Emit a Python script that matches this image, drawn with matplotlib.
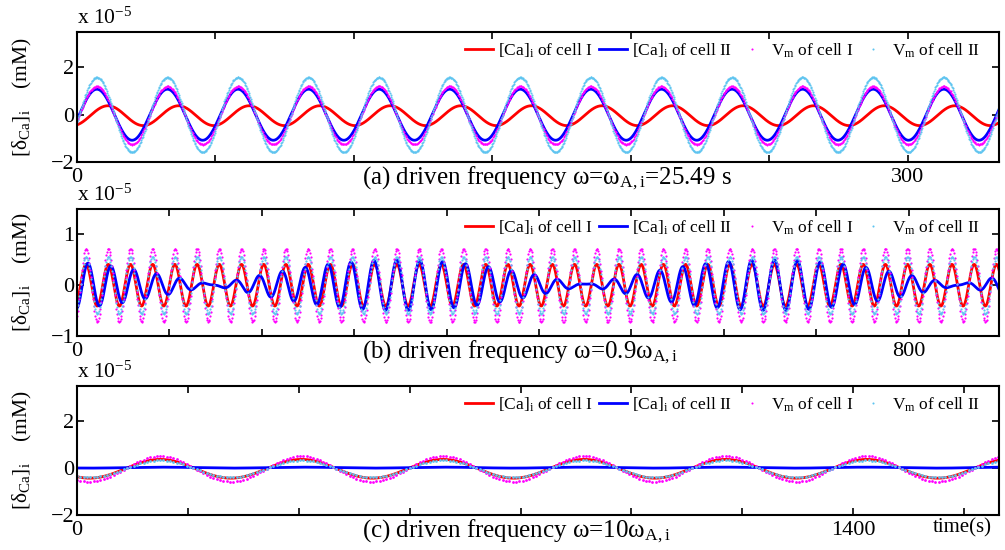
import numpy as np
import matplotlib
matplotlib.use("Agg")
import matplotlib.pyplot as plt
from matplotlib.lines import Line2D

plt.rcParams["font.family"] = ["Liberation Serif", "DejaVu Serif"]
plt.rcParams["mathtext.fontset"] = "custom"
plt.rcParams["mathtext.rm"] = "Liberation Serif"
plt.rcParams["mathtext.it"] = "Liberation Serif:italic"
plt.rcParams["mathtext.bf"] = "Liberation Serif:bold"

# series order: [Ca]i cell I, [Ca]i cell II, Vm cell I, Vm cell II
labels = [r"[Ca]$_\mathrm{i}$ of cell I", r"[Ca]$_\mathrm{i}$ of cell II",
          r"V$_\mathrm{m}$ of cell I", r"V$_\mathrm{m}$ of cell II"]
colors = ["#ff0000", "#0000ff", "#ff00ff", "#5ec4f0"]

# all amplitudes in units of 1e-5 mM, times in s
# (a) driven at omega_A,i
period_a = 25.49
tmax_a = 333
amp_a = [0.42, 1.08, 1.23, 1.58]
zero_a = [4.8, 0.8, 0.8, 0.8]        # first rising zero crossing
offset_a = [-0.04, 0.0, -0.03, 0.0]

# (b) driven at 0.9 omega_A,i ; cell II beats (second component)
period_b = 21.36
tmax_b = 887
amp_b = [0.41, 0.24, 0.72, 0.56]
zero_b = [3.4, 3.4, 3.4, 3.4]
offset_b = [0.0, 0.0, 0.0, 0.0]
beat_amp_b = 0.26
beat_period_b = 358.3
beat_phase_b = -0.85

# (c) driven at 10 omega_A,i
period_c = 254.9
tmax_c = 1663
amp_c = [0.40, 0.02, 0.545, 0.36]
zero_c = [86.5, 86.5, 86.5, 86.5]
offset_c = [-0.03, 0.02, -0.035, -0.03]

captions = [r"(a) driven frequency ω=ω$_\mathrm{A,i}$=25.49 s",
            r"(b) driven frequency ω=0.9ω$_\mathrm{A,i}$",
            r"(c) driven frequency ω=10ω$_\mathrm{A,i}$"]


def wave(t, amp, zero, off, period):
    return amp * np.sin(2 * np.pi * (t - zero) / period) + off


fig = plt.figure(figsize=(10.05, 5.5), dpi=100)
W, H = 1005, 550
boxes = [(32, 162), (209, 336), (386, 515)]
axes = [fig.add_axes([77 / W, 1 - b / H, 922 / W, (b - t) / H]) for t, b in boxes]

panels = [
    (period_a, tmax_a, amp_a, zero_a, offset_a, 0.05, 0.25, 3.0),
    (period_b, tmax_b, amp_b, zero_b, offset_b, 0.2, 0.7, 3.2),
    (period_c, tmax_c, amp_c, zero_c, offset_c, 1.0, 6.0, 4.0),
]

for i, (ax, p) in enumerate(zip(axes, panels)):
    period, tmax, amp, zero, off, dt_line, dt_dot, ms = p
    tl = np.arange(0, tmax + dt_line, dt_line)
    td = np.arange(0, tmax + dt_dot, dt_dot)
    ax.plot(tl, wave(tl, amp[0], zero[0], off[0], period), color=colors[0], lw=2)
    blue = wave(tl, amp[1], zero[1], off[1], period)
    if i == 1:
        phi = beat_phase_b - 2 * np.pi * tl / beat_period_b
        blue = blue + beat_amp_b * np.sin(2 * np.pi * (tl - zero[1]) / period + phi)
    ax.plot(tl, blue, color=colors[1], lw=2)
    for k in (2, 3):
        ax.plot(td, wave(td, amp[k], zero[k], off[k], period), ls="none",
                marker=".", ms=ms, mew=0, color=colors[k])
    ax.set_xlim(0, tmax)

axes[0].set_ylim(-2, 3.5)
axes[1].set_ylim(-1, 1.5)
axes[2].set_ylim(-2, 3.5)
axes[0].set_yticks([-2, 0, 2])
axes[1].set_yticks([-1, 0, 1])
axes[2].set_yticks([-2, 0, 2])

axes[0].set_xticks(np.arange(7) * 50)
axes[0].set_xticklabels(["0", "", "", "", "", "", "300"])
axes[1].set_xticks(np.arange(10) * 800 / 9)
axes[1].set_xticklabels(["0"] + [""] * 8 + ["800"])
axes[2].set_xticks(np.arange(9) * 200)
axes[2].set_xticklabels(["0"] + [""] * 6 + ["1400", ""])

handles = [Line2D([], [], color=colors[0], lw=2),
           Line2D([], [], color=colors[1], lw=2),
           Line2D([], [], color=colors[2], ls="none", marker=".", ms=3, mew=0),
           Line2D([], [], color=colors[3], ls="none", marker=".", ms=3, mew=0)]

baselines = [184, 358, 537]
for ax, cap, base in zip(axes, captions, baselines):
    for s in ax.spines.values():
        s.set_linewidth(1.5)
    ax.tick_params(direction="in", top=True, right=True, length=5, width=1.2,
                   labelsize=16, pad=3)
    ax.tick_params(axis="x", pad=4)
    ax.tick_params(axis="y", pad=2)
    ax.set_ylabel(r"[δ$_\mathrm{Ca}$]$_\mathrm{i}$    (mM)", fontsize=15.5)
    ax.yaxis.set_label_coords(-0.047, 0.5)
    ax.annotate(r"x 10$^{-5}$", xy=(0, 1), xycoords="axes fraction",
                xytext=(0, 2), textcoords="offset points", fontsize=15.5,
                ha="left", va="bottom")
    ax.legend(handles, labels, loc="upper right", ncol=4, frameon=False,
              fontsize=12.5, handlelength=1.6, handletextpad=0.3,
              columnspacing=0.35, borderaxespad=0.15, bbox_to_anchor=(0.99, 1.0))
    fig.text(362 / W, 1 - base / H, cap, fontsize=18, ha="left", va="baseline")

fig.text(992 / W, 1 - 532 / H, "time(s)", fontsize=15, ha="right", va="baseline")

fig.savefig("out.png", dpi=100)
